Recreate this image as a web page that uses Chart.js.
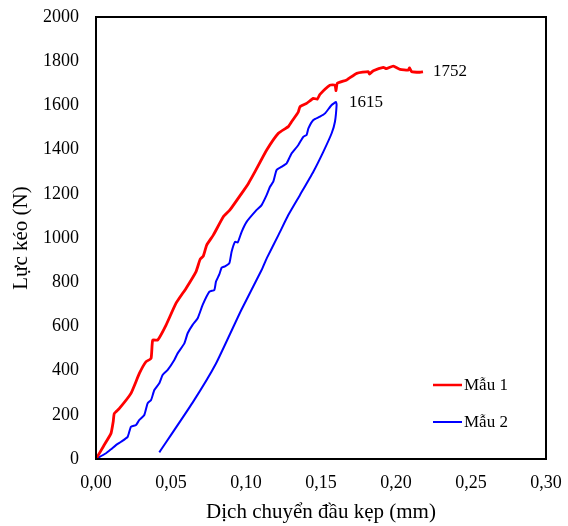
<!DOCTYPE html>
<html>
<head>
<meta charset="utf-8">
<script src="https://cdn.jsdelivr.net/npm/chart.js@4.4.1/dist/chart.umd.min.js"></script>
<style>
  html, body { margin: 0; padding: 0; background: #fff; }
  #wrap { width: 568px; height: 526px; position: relative; }
</style>
</head>
<body>
<div id="wrap"><canvas id="c" width="568" height="526"></canvas></div>
<script>
// ---- Data ----
const seriesNames = ['Mẫu 1', 'Mẫu 2'];
const seriesColors = ['#ff0000', '#0000ff'];

// Mẫu 1: displacement (mm) and force (N)
const mau1X = [0, 0.005, 0.01, 0.0115, 0.0122, 0.0156, 0.0233, 0.0289, 0.0333, 0.0367, 0.0378, 0.0411, 0.0467, 0.0533, 0.06, 0.0667, 0.0695, 0.0715, 0.0738, 0.0782, 0.0849, 0.0893, 0.0971, 0.1016, 0.106, 0.1138, 0.1216, 0.1282, 0.1304, 0.1349, 0.136, 0.1404, 0.1449, 0.1475, 0.1493, 0.156, 0.1593, 0.160, 0.1609, 0.1671, 0.1738, 0.1816, 0.1822, 0.1849, 0.1916, 0.1935, 0.1982, 0.2027, 0.2082, 0.2090, 0.2104, 0.216, 0.218];
const mau1Y = [0, 58, 116, 170, 206, 229, 297, 387, 440, 455, 538, 538, 606, 704, 772, 848, 905, 918, 968, 1013, 1096, 1127, 1202, 1247, 1300, 1398, 1474, 1504, 1526, 1571, 1594, 1609, 1632, 1628, 1650, 1692, 1692, 1667, 1700, 1715, 1745, 1753, 1742, 1757, 1772, 1766, 1778, 1763, 1760, 1770, 1753, 1750, 1752];

// Mẫu 2: loading branch followed by unloading branch
const mau2X = [0, 0.0067, 0.01, 0.0133, 0.0167, 0.0211, 0.0233, 0.0267, 0.0289, 0.0322, 0.0344, 0.0367, 0.0389, 0.0422, 0.0444, 0.0478, 0.0522, 0.0544, 0.0589, 0.0611, 0.0644, 0.0678, 0.0711, 0.0756, 0.0789, 0.08, 0.0822, 0.0838, 0.0860, 0.0889, 0.0904, 0.0927, 0.0945, 0.0971, 0.1004, 0.1071, 0.1104, 0.1138, 0.116, 0.1182, 0.1204, 0.1238, 0.1271, 0.1293, 0.1304, 0.1349, 0.1382, 0.1404, 0.1416, 0.1449, 0.1493, 0.1527, 0.1571, 0.16, 0.1604, 0.1593, 0.1571, 0.1516, 0.1449, 0.136, 0.1282, 0.1216, 0.1138, 0.1104, 0.0967, 0.08, 0.0644, 0.0422];
const mau2Y = [0, 26, 44, 63, 78, 100, 146, 154, 177, 199, 252, 267, 312, 343, 380, 403, 448, 478, 523, 569, 607, 637, 697, 757, 765, 803, 835, 866, 872, 886, 938, 983, 980, 1028, 1073, 1127, 1149, 1195, 1232, 1255, 1308, 1323, 1338, 1368, 1383, 1421, 1458, 1466, 1496, 1534, 1549, 1564, 1602, 1615, 1602, 1526, 1474, 1391, 1300, 1195, 1104, 1013, 908, 855, 672, 432, 255, 30];

// Peak value labels
const peakLabels = ['1752', '1615'];

// Axis ticks
const xTicks = [0, 0.05, 0.10, 0.15, 0.20, 0.25, 0.30];
const yTicks = [0, 200, 400, 600, 800, 1000, 1200, 1400, 1600, 1800, 2000];
const xTitle = 'Dịch chuyển đầu kẹp (mm)';
const yTitle = 'Lực kéo (N)';

// ---- Build ----
const toPts = (xs, ys) => xs.map((x, i) => ({ x: x, y: ys[i] }));
const FONT = "'Liberation Serif', 'Times New Roman', serif";

const framePlugin = {
  id: 'frame',
  afterDraw(chart) {
    const { ctx, chartArea: a } = chart;
    ctx.save();
    ctx.strokeStyle = '#000';
    ctx.lineWidth = 2;
    ctx.strokeRect(a.left, a.top, a.right - a.left, a.bottom - a.top);
    ctx.restore();
  }
};

const labelsPlugin = {
  id: 'peakLabels',
  afterDatasetsDraw(chart) {
    const { ctx, scales: { x, y } } = chart;
    ctx.save();
    ctx.fillStyle = '#000';
    ctx.font = '17px ' + FONT;
    ctx.textAlign = 'left';
    ctx.textBaseline = 'middle';
    const n1 = mau1X.length - 1;
    ctx.fillText(peakLabels[0], x.getPixelForValue(mau1X[n1]) + 10, y.getPixelForValue(Number(peakLabels[0])));
    let im = 0;
    mau2Y.forEach((v, i) => { if (v > mau2Y[im]) im = i; });
    ctx.fillText(peakLabels[1], x.getPixelForValue(mau2X[im]) + 13, y.getPixelForValue(mau2Y[im]));
    ctx.restore();
  }
};

const legendPlugin = {
  id: 'innerLegend',
  afterDraw(chart) {
    const { ctx, chartArea: a } = chart;
    ctx.save();
    ctx.font = '17px ' + FONT;
    ctx.textBaseline = 'middle';
    ctx.textAlign = 'left';
    const x0 = a.right - 113;
    const rows = [a.top + 368, a.top + 405];
    chart.data.datasets.forEach((ds, i) => {
      ctx.strokeStyle = ds.borderColor;
      ctx.lineWidth = i === 0 ? 2.5 : 2;
      ctx.beginPath();
      ctx.moveTo(x0, rows[i]);
      ctx.lineTo(x0 + 29, rows[i]);
      ctx.stroke();
      ctx.fillStyle = '#000';
      ctx.fillText(ds.label, x0 + 31, rows[i] + 1);
    });
    ctx.restore();
  }
};

new Chart(document.getElementById('c'), {
  type: 'scatter',
  data: {
    datasets: [
      { label: seriesNames[0], data: toPts(mau1X, mau1Y), showLine: true, borderColor: seriesColors[0], backgroundColor: seriesColors[0], borderWidth: 2.8, pointRadius: 0, tension: 0.15, borderJoinStyle: 'round' },
      { label: seriesNames[1], data: toPts(mau2X, mau2Y), showLine: true, borderColor: seriesColors[1], backgroundColor: seriesColors[1], borderWidth: 2, pointRadius: 0, tension: 0.15, borderJoinStyle: 'round' }
    ]
  },
  options: {
    responsive: false,
    animation: false,
    layout: { padding: { top: 17, right: 22, left: 0, bottom: 0 } },
    plugins: { legend: { display: false }, tooltip: { enabled: false } },
    scales: {
      x: {
        type: 'linear', min: 0, max: 0.30,
        afterBuildTicks: (s) => { s.ticks = xTicks.map(v => ({ value: v })); },
        afterFit: (s) => { s.height = 67; s.paddingLeft = 0; s.paddingRight = 0; },
        grid: { display: false, drawTicks: false },
        border: { display: false },
        ticks: {
          padding: 13, color: '#000', font: { family: FONT, size: 18 },
          callback: (v) => Number(v).toFixed(2).replace('.', ',')
        },
        title: { display: true, text: xTitle, color: '#000', font: { family: FONT, size: 21 }, padding: { top: 0, bottom: 1 } }
      },
      y: {
        type: 'linear', min: 0, max: 2000,
        afterBuildTicks: (s) => { s.ticks = yTicks.map(v => ({ value: v })); },
        afterFit: (s) => { s.width = 96; s.paddingTop = 0; s.paddingBottom = 0; },
        grid: { display: false, drawTicks: false },
        border: { display: false },
        ticks: { padding: 17, color: '#000', font: { family: FONT, size: 18 }, callback: (v) => String(v) },
        title: { display: true, text: yTitle, color: '#000', font: { family: FONT, size: 21 }, padding: { top: 9, bottom: 0 } }
      }
    }
  },
  plugins: [framePlugin, labelsPlugin, legendPlugin]
});
</script>
</body>
</html>
